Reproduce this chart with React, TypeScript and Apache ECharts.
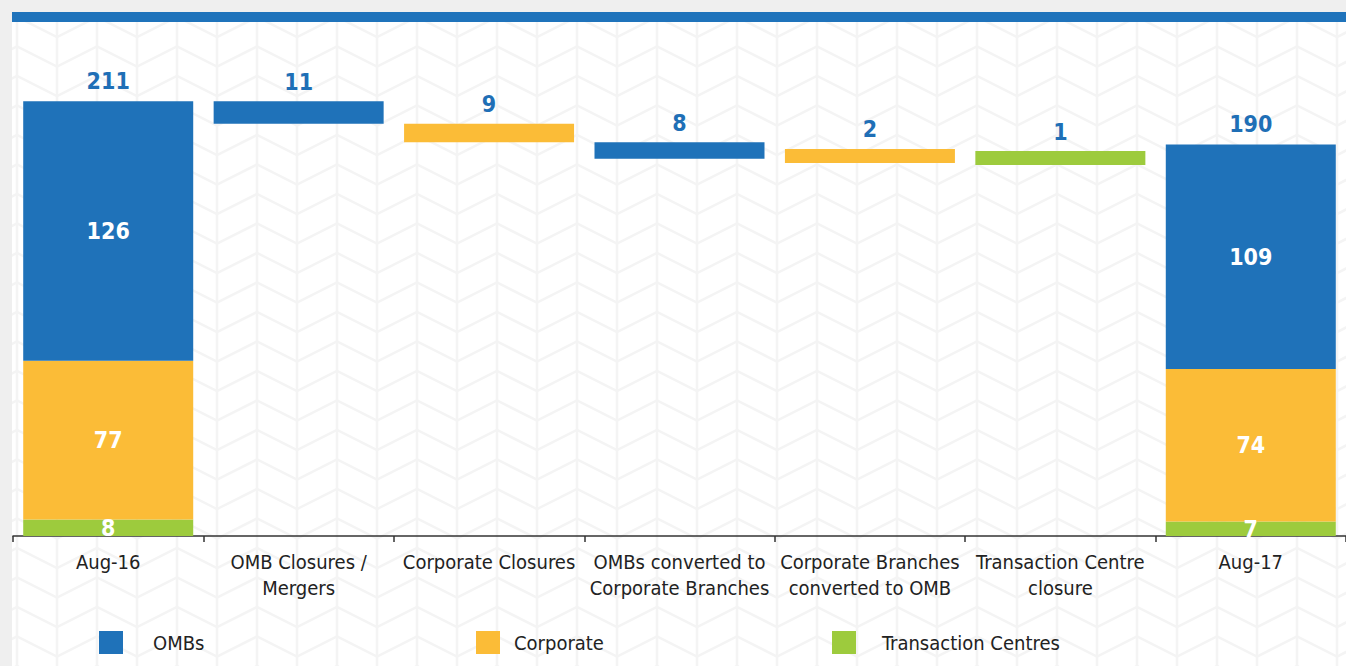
import React, { useEffect, useRef } from 'react';
import * as echarts from 'echarts';

const categories = [
  'Aug-16',
  'OMB Closures /\nMergers',
  'Corporate Closures',
  'OMBs converted to\nCorporate Branches',
  'Corporate Branches\nconverted to OMB',
  'Transaction Centre\nclosure',
  'Aug-17',
];
const ombValues: (number | null)[] = [126, 11, null, 8, null, null, 109];
const corporateValues: (number | null)[] = [77, null, 9, null, 2, null, 74];
const transactionValues: (number | null)[] = [8, null, null, null, null, 1, 7];
const totalValues: (number | null)[] = [211, null, null, null, null, null, 190];
const seriesNames = ['OMBs', 'Corporate', 'Transaction Centres'];

const BLUE = '#1f72b9';
const YELLOW = '#fbbc37';
const GREEN = '#9dcb3d';
const LABEL_BLUE = '#1f6fb6';
const FONT = "'DejaVu Sans Condensed', 'Liberation Sans', sans-serif";

export default function App() {
  const ref = useRef<HTMLDivElement>(null);

  useEffect(() => {
    if (!ref.current) return;
    const chart = echarts.init(ref.current, undefined, { renderer: 'svg' });

    const isTotal = totalValues.map((t) => t != null);
    let running = 0;
    const baseValues = categories.map((_, i) => {
      if (isTotal[i]) {
        running = totalValues[i] as number;
        return '-';
      }
      const step = (ombValues[i] ?? 0) + (corporateValues[i] ?? 0) + (transactionValues[i] ?? 0);
      running -= step;
      return running;
    });

    const toItems = (vals: (number | null)[]) =>
      vals.map((v, i) =>
        v == null
          ? '-'
          : {
              value: v,
              label: isTotal[i]
                ? { position: 'inside', color: '#ffffff' }
                : { position: 'top', color: LABEL_BLUE, distance: 8 },
            }
      );

    const labelBase = {
      show: true,
      fontSize: 23,
      fontWeight: 'bold',
      fontFamily: FONT,
    };

    // decorative background pattern
    const W = 1346;
    const H = 666;
    const PAT = '#f4f4f4';
    const pattern: any[] = [];
    for (let x = 17; x < W; x += 40) {
      pattern.push({
        type: 'line',
        shape: { x1: x, y1: 12, x2: x, y2: H },
        style: { stroke: PAT, lineWidth: 2.5 },
        silent: true,
      });
    }
    for (let y0 = 273 - 29.5 * 10; y0 < H + 30; y0 += 29.5) {
      const pts: number[][] = [];
      for (let k = -1; 17 + 40 * (k - 1) < W + 40; k++) {
        const x = 17 + 40 * k;
        const odd = Math.abs(k) % 2 === 1;
        pts.push([x, odd ? y0 : y0 - 20]);
      }
      pattern.push({
        type: 'polyline',
        shape: { points: pts },
        style: { stroke: PAT, lineWidth: 2.5, fill: 'none' },
        silent: true,
      });
    }

    const legendCommon = {
      icon: 'rect',
      itemWidth: 24,
      itemHeight: 23,
      top: 631,
      padding: 0,
      selectedMode: false,
    };

    chart.setOption({
      animation: false,
      graphic: [
        { type: 'rect', shape: { x: 0, y: 0, width: W, height: H }, style: { fill: '#ffffff' }, silent: true },
        ...pattern,
        { type: 'rect', shape: { x: 0, y: 0, width: 12, height: H }, style: { fill: '#efefef' }, silent: true },
        { type: 'rect', shape: { x: 0, y: 0, width: W, height: 12 }, style: { fill: '#efefef' }, silent: true },
        { type: 'rect', shape: { x: 12, y: 12, width: W - 12, height: 10 }, style: { fill: '#1f73bb' }, silent: true },
      ],
      legend: [
        {
          ...legendCommon,
          left: 99,
          data: [seriesNames[0]],
          textStyle: { fontSize: 20, color: '#222', fontFamily: FONT, padding: [0, 0, 0, 25] },
        },
        {
          ...legendCommon,
          left: 476,
          data: [seriesNames[1]],
          textStyle: { fontSize: 20, color: '#222', fontFamily: FONT, padding: [0, 0, 0, 9] },
        },
        {
          ...legendCommon,
          left: 832,
          data: [seriesNames[2]],
          textStyle: { fontSize: 20, color: '#222', fontFamily: FONT, padding: [0, 0, 0, 21] },
        },
      ],
      grid: { left: 13, right: 0, top: 62, bottom: 130, containLabel: false },
      xAxis: {
        type: 'category',
        data: categories,
        axisLine: { lineStyle: { color: '#333', width: 1.5 } },
        axisTick: { show: true, length: 6, lineStyle: { color: '#333', width: 1.5 } },
        axisLabel: {
          interval: 0,
          fontSize: 20,
          lineHeight: 26,
          color: '#222',
          margin: 13,
          fontFamily: FONT,
        },
      },
      yAxis: { type: 'value', min: 0, max: 230, show: false },
      series: [
        {
          name: 'base',
          type: 'bar',
          stack: 'w',
          barWidth: 170,
          data: baseValues,
          itemStyle: { color: 'rgba(0,0,0,0)' },
          silent: true,
          label: { show: false },
        },
        {
          name: seriesNames[2],
          type: 'bar',
          stack: 'w',
          barWidth: 170,
          barMinHeight: 14,
          data: toItems(transactionValues),
          itemStyle: { color: GREEN },
          label: labelBase,
        },
        {
          name: seriesNames[1],
          type: 'bar',
          stack: 'w',
          barWidth: 170,
          barMinHeight: 14,
          data: toItems(corporateValues),
          itemStyle: { color: YELLOW },
          label: labelBase,
        },
        {
          name: seriesNames[0],
          type: 'bar',
          stack: 'w',
          barWidth: 170,
          barMinHeight: 14,
          data: toItems(ombValues),
          itemStyle: { color: BLUE },
          label: labelBase,
        },
        {
          name: 'Total',
          type: 'scatter',
          data: totalValues.map((t) => (t == null ? '-' : t)),
          symbolSize: 1,
          itemStyle: { color: 'rgba(0,0,0,0)', opacity: 1 },
          label: { ...labelBase, position: 'top', distance: 8, color: LABEL_BLUE },
          silent: true,
        },
      ],
    });

    return () => chart.dispose();
  }, []);

  return (
    <div
      ref={ref}
      style={{ position: 'absolute', left: 0, top: 0, width: 1346, height: 666 }}
    />
  );
}
